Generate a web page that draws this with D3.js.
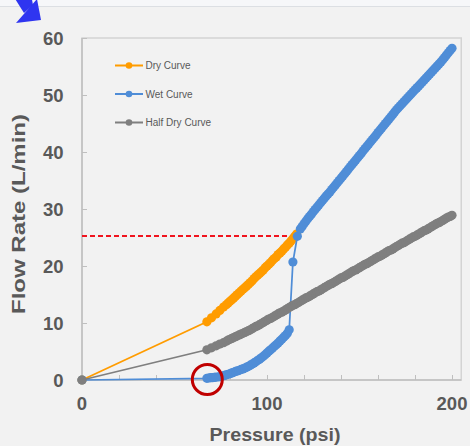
<!DOCTYPE html>
<html>
<head>
<meta charset="utf-8">
<script src="https://cdn.jsdelivr.net/npm/d3@7"></script>
<style>
  html, body { margin: 0; padding: 0; background: #f2f2f2; }
  svg { display: block; }
</style>
</head>
<body>
<svg id="chart" width="470" height="446"></svg>
<script>
// ---- Data ----
const seriesNames = ["Dry Curve", "Wet Curve", "Half Dry Curve"];

const dryPressure = [0, 67.5, 70, 72.5, 74.5, 76.5, 78, 79, 80, 81, 82, 83, 84, 85, 86, 87, 88, 89, 90, 91, 92, 93, 94, 95, 96, 97, 98, 99, 100,
  101, 102, 103, 104, 105, 106, 107, 108, 109, 110, 111, 112, 113, 114, 115, 116];
const dryFlow     = [0, 10.2, 10.9, 11.6, 12.2, 12.8, 13.2, 13.5, 13.8, 14.1, 14.4, 14.7, 15.0, 15.3, 15.6, 15.9, 16.2, 16.5, 16.8, 17.1, 17.4, 17.8, 18.1, 18.4, 18.7, 19.0, 19.3, 19.7, 20.0,
  20.3, 20.6, 21.0, 21.3, 21.6, 22.0, 22.3, 22.6, 23.0, 23.3, 23.7, 24.0, 24.4, 24.8, 25.2, 25.6];

const wetPressure = [0, 67.5, 68.5, 69.5, 70.5, 71.5, 72.5, 74, 75, 76, 77, 78, 79, 80, 81, 82, 83, 84, 85, 86, 87, 88, 89, 90,
  91, 92, 93, 94, 95, 96, 97, 98, 99, 100, 101, 102, 103, 104, 105, 106, 107, 108, 109, 110, 111, 112,
  114, 116.4,
  118, 119, 120, 121, 122, 123, 124, 125, 126, 127, 128, 129, 130, 131, 132, 133, 134, 135, 136, 137, 138, 139, 140,
  141, 142, 143, 144, 145, 146, 147, 148, 149, 150, 151, 152, 153, 154, 155, 156, 157, 158, 159, 160,
  161, 162, 163, 164, 165, 166, 167, 168, 169, 170, 171, 172, 173, 174, 175, 176, 177, 178, 179, 180,
  181, 182, 183, 184, 185, 186, 187, 188, 189, 190, 191, 192, 193, 194, 195, 196, 197, 198, 199, 200];
const wetFlow     = [0, 0.3, 0.35, 0.4, 0.4, 0.45, 0.5, 0.55, 0.6, 0.7, 0.8, 0.9, 1.0, 1.1, 1.25, 1.35, 1.5, 1.6, 1.7, 1.85, 1.95, 2.1, 2.25, 2.4,
  2.6, 2.8, 3.0, 3.2, 3.45, 3.65, 3.9, 4.15, 4.45, 4.75, 5.05, 5.3, 5.6, 5.9, 6.2, 6.5, 6.85, 7.15, 7.5, 7.8, 8.2, 8.8,
  20.7, 25.2,
  26.5, 26.95, 27.4, 27.85, 28.3, 28.7, 29.1, 29.5, 29.9, 30.3, 30.7, 31.1, 31.5, 31.9, 32.3, 32.65, 33.0, 33.4, 33.8, 34.2, 34.6, 35.0, 35.4,
  35.8, 36.2, 36.6, 37.0, 37.4, 37.8, 38.2, 38.6, 39.0, 39.4, 39.8, 40.2, 40.6, 41.0, 41.4, 41.8, 42.2, 42.6, 43.0, 43.4,
  43.8, 44.2, 44.6, 45.0, 45.4, 45.8, 46.2, 46.6, 47.0, 47.4, 47.75, 48.1, 48.45, 48.8, 49.15, 49.5, 49.85, 50.2, 50.55, 50.9,
  51.25, 51.6, 51.95, 52.3, 52.65, 53.0, 53.35, 53.7, 54.05, 54.4, 54.75, 55.1, 55.45, 55.8, 56.2, 56.6, 57.0, 57.4, 57.8, 58.2];

const halfPressure = [0, 67.5, 70, 72.5, 74.5, 76.5, 78, 79, 80, 81, 82, 83, 84, 85, 86, 87, 88, 89, 90,
  91, 92, 93, 94, 95, 96, 97, 98, 99, 100, 101, 102, 103, 104, 105, 106, 107, 108, 109, 110,
  111, 112, 113, 114, 115, 116, 117, 118, 119, 120, 121, 122, 123, 124, 125, 126, 127, 128, 129, 130,
  131, 132, 133, 134, 135, 136, 137, 138, 139, 140, 141, 142, 143, 144, 145, 146, 147, 148, 149, 150,
  151, 152, 153, 154, 155, 156, 157, 158, 159, 160, 161, 162, 163, 164, 165, 166, 167, 168, 169, 170,
  171, 172, 173, 174, 175, 176, 177, 178, 179, 180, 181, 182, 183, 184, 185, 186, 187, 188, 189, 190,
  191, 192, 193, 194, 195, 196, 197, 198, 199, 200];
const halfFlow     = [0, 5.3, 5.65, 6.0, 6.3, 6.55, 6.8, 7.0, 7.15, 7.3, 7.45, 7.6, 7.75, 7.9, 8.05, 8.2, 8.35, 8.5, 8.65,
  8.8, 9.0, 9.2, 9.4, 9.5, 9.7, 9.9, 10.1, 10.3, 10.5, 10.7, 10.8, 11.0, 11.2, 11.4, 11.6, 11.8, 11.9, 12.1, 12.3,
  12.5, 12.7, 12.9, 13.1, 13.2, 13.4, 13.6, 13.8, 14.0, 14.2, 14.4, 14.5, 14.7, 14.9, 15.1, 15.3, 15.5, 15.6, 15.8, 16.0,
  16.2, 16.4, 16.6, 16.8, 16.9, 17.1, 17.3, 17.5, 17.7, 17.9, 18.0, 18.2, 18.4, 18.6, 18.8, 19.0, 19.2, 19.3, 19.5, 19.7,
  19.9, 20.1, 20.3, 20.4, 20.6, 20.8, 21.0, 21.2, 21.4, 21.6, 21.7, 21.9, 22.1, 22.3, 22.5, 22.7, 22.8, 23.0, 23.2, 23.4,
  23.6, 23.8, 24.0, 24.1, 24.3, 24.5, 24.7, 24.9, 25.1, 25.2, 25.4, 25.6, 25.8, 26.0, 26.2, 26.3, 26.5, 26.7, 26.9, 27.1,
  27.3, 27.5, 27.6, 27.8, 28.0, 28.2, 28.4, 28.6, 28.7, 28.9];

const xTickValues = [0, 100, 200];
const xMinorTicks = [0, 20, 40, 60, 80, 100, 120, 140, 160, 180, 200];
const yTickValues = [0, 10, 20, 30, 40, 50, 60];

const markerPressure = 116;   // dashed reference line end
const markerFlow = 25.3;      // dashed reference line level
const circlePressure = 68;    // highlighted onset point
const circleFlow = 0;

// ---- Layout ----
const svg = d3.select("#chart");
const W = 470, H = 446;
const mLeft = 82, mRight = 461.25, mTop = 38, mBottom = 380;

const x = d3.scaleLinear().domain([0, 205]).range([mLeft, mRight]);
const y = d3.scaleLinear().domain([0, 60]).range([mBottom, mTop]);

const colors = { dry: "#ff9c00", wet: "#4f8dd7", half: "#7f7f7f" };
const textColor = "#595959";

// background
svg.append("rect").attr("width", W).attr("height", H).attr("fill", "#f2f2f2");
// top strip
svg.append("rect").attr("x", 0).attr("y", 0).attr("width", W).attr("height", 6.5).attr("fill", "#f6f7f9");
svg.append("line").attr("x1", 0).attr("x2", W).attr("y1", 6.5).attr("y2", 6.5)
  .attr("stroke", "#dcdfe3").attr("stroke-width", 1);

// blue arrow (annotation in corner)
const arrow = svg.append("g").attr("fill", "#2f35f0");
arrow.append("polygon").attr("points", "16,23 41,20 37,-1");
arrow.append("polygon").attr("points", "12,-6 31,-6 33,5 24,13");

// plot frame
svg.append("rect").attr("x", mLeft).attr("y", mTop).attr("width", mRight - mLeft).attr("height", mBottom - mTop)
  .attr("fill", "none").attr("stroke", "#d4d4d4").attr("stroke-width", 1.5);

// axes
const xAxis = d3.axisBottom(x).tickValues(xMinorTicks).tickSize(-5).tickFormat("");
const gx = svg.append("g").attr("transform", `translate(0,${mBottom})`).call(xAxis);
gx.select(".domain").remove();
gx.selectAll(".tick line").attr("stroke", "#bfbfbf").attr("stroke-width", 1);
svg.append("line").attr("x1", mLeft).attr("x2", mRight).attr("y1", mBottom).attr("y2", mBottom)
  .attr("stroke", "#bfbfbf").attr("stroke-width", 1.5);

const yAxis = d3.axisLeft(y).tickValues(yTickValues).tickSize(-5).tickFormat("");
const gy = svg.append("g").attr("transform", `translate(${mLeft},0)`).call(yAxis);
gy.select(".domain").remove();
gy.selectAll(".tick line").attr("stroke", "#bfbfbf").attr("stroke-width", 1);
svg.append("line").attr("x1", mLeft).attr("x2", mLeft).attr("y1", mTop).attr("y2", mBottom)
  .attr("stroke", "#bfbfbf").attr("stroke-width", 1.5);

// tick labels
svg.append("g").selectAll("text").data(xTickValues).join("text")
  .attr("x", d => x(d)).attr("y", 409.5)
  .attr("text-anchor", "middle")
  .attr("font-family", "Liberation Sans, Arial, sans-serif").attr("font-weight", "bold")
  .attr("font-size", 18.5).attr("fill", textColor)
  .text(d => d);

svg.append("g").selectAll("text").data(yTickValues).join("text")
  .attr("x", 63.5).attr("y", d => y(d) + 6.5)
  .attr("text-anchor", "end")
  .attr("font-family", "Liberation Sans, Arial, sans-serif").attr("font-weight", "bold")
  .attr("font-size", 18.5).attr("fill", textColor)
  .text(d => d);

// axis titles
svg.append("text").attr("x", 275).attr("y", 441)
  .attr("text-anchor", "middle")
  .attr("font-family", "Liberation Sans, Arial, sans-serif").attr("font-weight", "bold")
  .attr("font-size", 18.5).attr("fill", textColor)
  .attr("textLength", 131).attr("lengthAdjust", "spacingAndGlyphs")
  .text("Pressure (psi)");

svg.append("text").attr("transform", "translate(25,214) rotate(-90)")
  .attr("text-anchor", "middle")
  .attr("font-family", "Liberation Sans, Arial, sans-serif").attr("font-weight", "bold")
  .attr("font-size", 18).attr("fill", textColor)
  .attr("textLength", 200).attr("lengthAdjust", "spacingAndGlyphs")
  .text("Flow Rate (L/min)");

// red dashed reference line
svg.append("line")
  .attr("x1", x(0)).attr("x2", x(markerPressure))
  .attr("y1", Math.round(y(markerFlow))).attr("y2", Math.round(y(markerFlow)))
  .attr("stroke", "#f0141e").attr("stroke-width", 2).attr("stroke-dasharray", "5,3")
  .attr("shape-rendering", "crispEdges");

// series
const plot = svg.append("g");
function drawSeries(px, py, color, r) {
  const pts = px.map((p, i) => [p, py[i]]);
  const line = d3.line().x(d => x(d[0])).y(d => y(d[1]));
  plot.append("path").attr("d", line(pts)).attr("fill", "none")
    .attr("stroke", color).attr("stroke-width", 1.75);
  plot.append("g").selectAll("circle").data(pts).join("circle")
    .attr("cx", d => x(d[0])).attr("cy", d => y(d[1])).attr("r", r)
    .attr("fill", color);
}
drawSeries(dryPressure, dryFlow, colors.dry, 4.6);
drawSeries(wetPressure, wetFlow, colors.wet, 4.6);
drawSeries(halfPressure, halfFlow, colors.half, 4.6);

// red circle highlight
svg.append("circle").attr("cx", x(circlePressure) - 0.5).attr("cy", y(circleFlow) - 0.5).attr("r", 15)
  .attr("fill", "none").attr("stroke", "#c00000").attr("stroke-width", 3);

// legend
const legend = svg.append("g");
const legendItems = [
  { name: seriesNames[0], color: colors.dry, y: 65.5 },
  { name: seriesNames[1], color: colors.wet, y: 94 },
  { name: seriesNames[2], color: colors.half, y: 122.5 }
];
legendItems.forEach(it => {
  legend.append("line").attr("x1", 115).attr("x2", 143).attr("y1", it.y).attr("y2", it.y)
    .attr("stroke", it.color).attr("stroke-width", 2);
  legend.append("circle").attr("cx", 129).attr("cy", it.y).attr("r", 3.3).attr("fill", it.color);
  legend.append("text").attr("x", 145.5).attr("y", it.y + 3.5)
    .attr("font-family", "Liberation Sans, Arial, sans-serif")
    .attr("font-size", 10).attr("fill", textColor)
    .text(it.name);
});
</script>
</body>
</html>
